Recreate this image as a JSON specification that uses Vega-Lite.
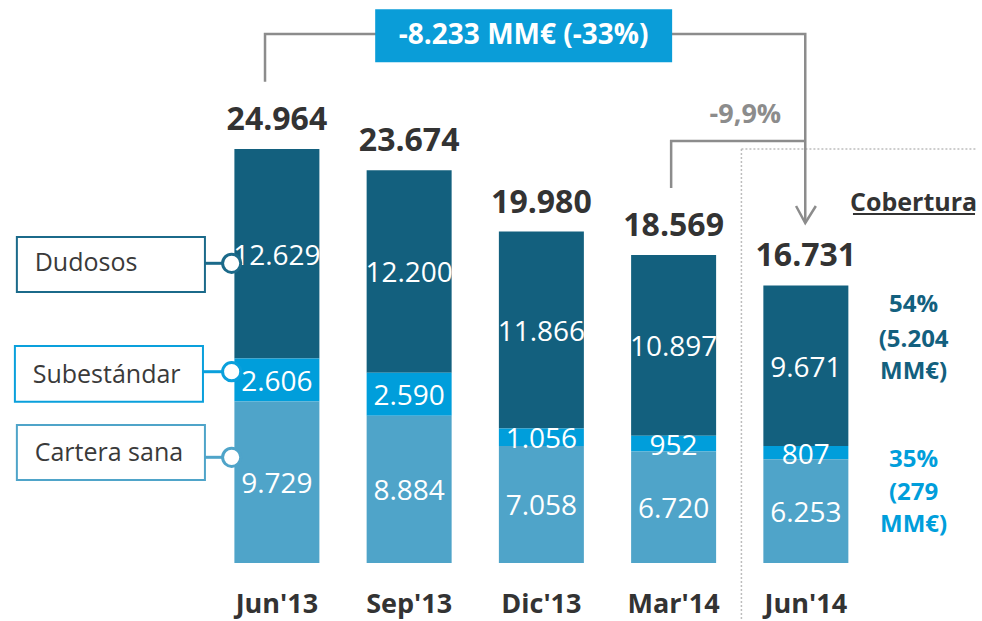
{
  "$schema": "https://vega.github.io/schema/vega-lite/v6.json",
  "width": 982,
  "height": 563,
  "autosize": {"type": "none"},
  "padding": {"left": 0, "top": 0, "right": 0, "bottom": 58},
  "background": "white",
  "config": {
    "view": {"stroke": null},
    "font": "Open Sans",
    "locale": {"number": {"decimal": ",", "thousands": ".", "grouping": [3], "currency": ["", " €"]}}
  },
  "datasets": {
    "stock": [
      {"periodo": "Jun'13", "pos": 1, "tipo": "Dudosos", "orden": 3, "valor": 12629},
      {"periodo": "Jun'13", "pos": 1, "tipo": "Subestándar", "orden": 2, "valor": 2606},
      {"periodo": "Jun'13", "pos": 1, "tipo": "Cartera sana", "orden": 1, "valor": 9729},
      {"periodo": "Sep'13", "pos": 2, "tipo": "Dudosos", "orden": 3, "valor": 12200},
      {"periodo": "Sep'13", "pos": 2, "tipo": "Subestándar", "orden": 2, "valor": 2590},
      {"periodo": "Sep'13", "pos": 2, "tipo": "Cartera sana", "orden": 1, "valor": 8884},
      {"periodo": "Dic'13", "pos": 3, "tipo": "Dudosos", "orden": 3, "valor": 11866},
      {"periodo": "Dic'13", "pos": 3, "tipo": "Subestándar", "orden": 2, "valor": 1056},
      {"periodo": "Dic'13", "pos": 3, "tipo": "Cartera sana", "orden": 1, "valor": 7058},
      {"periodo": "Mar'14", "pos": 4, "tipo": "Dudosos", "orden": 3, "valor": 10897},
      {"periodo": "Mar'14", "pos": 4, "tipo": "Subestándar", "orden": 2, "valor": 952},
      {"periodo": "Mar'14", "pos": 4, "tipo": "Cartera sana", "orden": 1, "valor": 6720},
      {"periodo": "Jun'14", "pos": 5, "tipo": "Dudosos", "orden": 3, "valor": 9671},
      {"periodo": "Jun'14", "pos": 5, "tipo": "Subestándar", "orden": 2, "valor": 807},
      {"periodo": "Jun'14", "pos": 5, "tipo": "Cartera sana", "orden": 1, "valor": 6253}
    ],
    "leyenda": [
      {"tipo": "Dudosos", "x1": -0.9663, "x2": 0.4558, "ysup": 19653, "yinf": 16337, "xt": -0.8316, "yt": 18085, "xc": 0.6579, "yc": 18067},
      {"tipo": "Subestándar", "x1": -0.9813, "x2": 0.4409, "ysup": 13082, "yinf": 9724, "xt": -0.8466, "yt": 11333, "xc": 0.6579, "yc": 11532},
      {"tipo": "Cartera sana", "x1": -0.9663, "x2": 0.4558, "ysup": 8319, "yinf": 5004, "xt": -0.8316, "yt": 6631, "xc": 0.6579, "yc": 6372}
    ],
    "flechas": [
      {"tramo": "total", "o": 1, "xa": 0.9102, "ya": 29015},
      {"tramo": "total", "o": 2, "xa": 0.9102, "ya": 31890},
      {"tramo": "total", "o": 3, "xa": 4.9955, "ya": 31890},
      {"tramo": "total", "o": 4, "xa": 4.9955, "ya": 20497},
      {"tramo": "trimestre", "o": 1, "xa": 3.9813, "ya": 22607},
      {"tramo": "trimestre", "o": 2, "xa": 3.9813, "ya": 25440},
      {"tramo": "trimestre", "o": 3, "xa": 4.9955, "ya": 25440},
      {"tramo": "punta", "o": 1, "xa": 4.9259, "ya": 21521},
      {"tramo": "punta", "o": 2, "xa": 4.9955, "ya": 20497},
      {"tramo": "punta", "o": 3, "xa": 5.0756, "ya": 21521}
    ],
    "punteadas": [
      {"xa": 4.5127, "xb": 4.5127, "ya": 24958, "yb": -3496},
      {"xa": 4.5127, "xb": 6.2942, "ya": 24958, "yb": 24958}
    ],
    "caja": [
      {"texto": "-8.233 MM€ (-33%)", "xa": 1.7433, "xb": 3.9888, "ya": 33379, "yb": 30184, "xt": 2.866, "yt": 31770}
    ],
    "variacion": [
      {"texto": "-9,9%", "xa": 4.5427, "ya": 27007}
    ],
    "titulo": [
      {"texto": "Cobertura", "xa": 5.8151, "ya": 21702, "xs": 5.3563, "xs2": 6.2792, "ys": 21039}
    ],
    "cobertura": [
      {"tipo": "Dudosos", "texto": "54%", "xa": 5.8151, "ya": 15553},
      {"tipo": "Dudosos", "texto": "(5.204", "xa": 5.8151, "ya": 13443},
      {"tipo": "Dudosos", "texto": "MM€)", "xa": 5.8151, "ya": 11514},
      {"tipo": "Subestándar", "texto": "35%", "xa": 5.8151, "ya": 6209},
      {"tipo": "Subestándar", "texto": "(279", "xa": 5.8151, "ya": 4220},
      {"tipo": "Subestándar", "texto": "MM€)", "xa": 5.8151, "ya": 2291}
    ]
  },
  "layer": [
    {
      "data": {"name": "punteadas"},
      "mark": {"type": "rule", "color": "#BDBDBD", "strokeWidth": 1.5, "strokeDash": [2, 2]},
      "encoding": {
        "x": {"field": "xa", "type": "quantitative", "scale": {"domain": [-1.0561, 6.2942], "nice": false, "zero": false}, "axis": null},
        "x2": {"field": "xb"},
        "y": {"field": "ya", "type": "quantitative", "scale": {"domain": [0, 33940], "nice": false, "zero": false}, "axis": null},
        "y2": {"field": "yb"}
      }
    },
    {
      "data": {"name": "flechas"},
      "mark": {"type": "line", "color": "#8C8C8C", "strokeWidth": 2.5, "strokeJoin": "miter"},
      "encoding": {
        "x": {"field": "xa", "type": "quantitative", "scale": {"domain": [-1.0561, 6.2942], "nice": false, "zero": false}, "axis": null},
        "y": {"field": "ya", "type": "quantitative", "scale": {"domain": [0, 33940], "nice": false, "zero": false}, "axis": null},
        "detail": {"field": "tramo", "type": "nominal"},
        "order": {"field": "o", "type": "quantitative"}
      }
    },
    {
      "data": {"name": "caja"},
      "mark": {"type": "rect", "color": "#0A9DD8"},
      "encoding": {
        "x": {"field": "xa", "type": "quantitative", "scale": {"domain": [-1.0561, 6.2942], "nice": false, "zero": false}, "axis": null},
        "x2": {"field": "xb"},
        "y": {"field": "ya", "type": "quantitative", "scale": {"domain": [0, 33940], "nice": false, "zero": false}, "axis": null},
        "y2": {"field": "yb"}
      }
    },
    {
      "data": {"name": "caja"},
      "mark": {"type": "text", "color": "white", "fontSize": 28, "fontWeight": "bold", "baseline": "middle", "align": "center"},
      "encoding": {
        "x": {"field": "xt", "type": "quantitative", "scale": {"domain": [-1.0561, 6.2942], "nice": false, "zero": false}, "axis": null},
        "y": {"field": "yt", "type": "quantitative", "scale": {"domain": [0, 33940], "nice": false, "zero": false}, "axis": null},
        "text": {"field": "texto"}
      }
    },
    {
      "data": {"name": "stock"},
      "transform": [
        {"stack": "valor", "groupby": ["pos"], "sort": [{"field": "orden", "order": "ascending"}], "as": ["y0", "y1"]}
      ],
      "mark": {"type": "bar", "width": 85},
      "encoding": {
        "x": {"field": "pos", "type": "quantitative", "scale": {"domain": [-1.0561, 6.2942], "nice": false, "zero": false}, "axis": null},
        "y": {"field": "y0", "type": "quantitative", "scale": {"domain": [0, 33940], "nice": false, "zero": false}, "axis": null},
        "y2": {"field": "y1"},
        "color": {
          "field": "tipo", "type": "nominal",
          "scale": {"domain": ["Dudosos", "Subestándar", "Cartera sana"], "range": ["#13607E", "#009EDB", "#4FA4C9"]},
          "legend": null
        }
      }
    },
    {
      "data": {"name": "stock"},
      "transform": [
        {"stack": "valor", "groupby": ["pos"], "sort": [{"field": "orden", "order": "ascending"}], "as": ["y0", "y1"]},
        {"calculate": "(datum.y0 + datum.y1) / 2", "as": "ym"}
      ],
      "mark": {"type": "text", "color": "white", "fontSize": 28, "baseline": "middle", "align": "center", "dy": 3},
      "encoding": {
        "x": {"field": "pos", "type": "quantitative", "scale": {"domain": [-1.0561, 6.2942], "nice": false, "zero": false}, "axis": null},
        "y": {"field": "ym", "type": "quantitative", "scale": {"domain": [0, 33940], "nice": false, "zero": false}, "axis": null},
        "text": {"field": "valor", "type": "quantitative", "format": ",d"}
      }
    },
    {
      "data": {"name": "stock"},
      "transform": [
        {"aggregate": [{"op": "sum", "field": "valor", "as": "total"}], "groupby": ["pos"]}
      ],
      "mark": {"type": "text", "color": "#333333", "fontSize": 32, "fontWeight": "bold", "baseline": "middle", "align": "center", "dy": -29},
      "encoding": {
        "x": {"field": "pos", "type": "quantitative", "scale": {"domain": [-1.0561, 6.2942], "nice": false, "zero": false}, "axis": null},
        "y": {"field": "total", "type": "quantitative", "scale": {"domain": [0, 33940], "nice": false, "zero": false}, "axis": null},
        "text": {"field": "total", "type": "quantitative", "format": ",d"}
      }
    },
    {
      "data": {"name": "stock"},
      "transform": [{"filter": "datum.orden == 1"}],
      "mark": {"type": "text", "color": "#333333", "fontSize": 27, "fontWeight": "bold", "baseline": "middle", "align": "center", "dy": 42},
      "encoding": {
        "x": {"field": "pos", "type": "quantitative", "scale": {"domain": [-1.0561, 6.2942], "nice": false, "zero": false}, "axis": null},
        "y": {"datum": 0, "type": "quantitative", "scale": {"domain": [0, 33940], "nice": false, "zero": false}, "axis": null},
        "text": {"field": "periodo"}
      }
    },
    {
      "data": {"name": "leyenda"},
      "mark": {"type": "rect", "fill": "white", "strokeWidth": 2},
      "encoding": {
        "x": {"field": "x1", "type": "quantitative", "scale": {"domain": [-1.0561, 6.2942], "nice": false, "zero": false}, "axis": null},
        "x2": {"field": "x2"},
        "y": {"field": "ysup", "type": "quantitative", "scale": {"domain": [0, 33940], "nice": false, "zero": false}, "axis": null},
        "y2": {"field": "yinf"},
        "stroke": {
          "field": "tipo", "type": "nominal",
          "scale": {"domain": ["Dudosos", "Subestándar", "Cartera sana"], "range": ["#1B6A8A", "#0AA0DC", "#4FA4C9"]},
          "legend": null
        }
      }
    },
    {
      "data": {"name": "leyenda"},
      "mark": {"type": "text", "color": "#3A3A3A", "fontSize": 25, "baseline": "middle", "align": "left"},
      "encoding": {
        "x": {"field": "xt", "type": "quantitative", "scale": {"domain": [-1.0561, 6.2942], "nice": false, "zero": false}, "axis": null},
        "y": {"field": "yt", "type": "quantitative", "scale": {"domain": [0, 33940], "nice": false, "zero": false}, "axis": null},
        "text": {"field": "tipo"}
      }
    },
    {
      "data": {"name": "leyenda"},
      "mark": {"type": "rule", "strokeWidth": 3},
      "encoding": {
        "x": {"field": "x2", "type": "quantitative", "scale": {"domain": [-1.0561, 6.2942], "nice": false, "zero": false}, "axis": null},
        "x2": {"field": "xc"},
        "y": {"field": "yc", "type": "quantitative", "scale": {"domain": [0, 33940], "nice": false, "zero": false}, "axis": null},
        "stroke": {
          "field": "tipo", "type": "nominal",
          "scale": {"domain": ["Dudosos", "Subestándar", "Cartera sana"], "range": ["#1B6A8A", "#0AA0DC", "#4FA4C9"]},
          "legend": null
        }
      }
    },
    {
      "data": {"name": "leyenda"},
      "mark": {"type": "point", "shape": "circle", "filled": false, "fill": "white", "fillOpacity": 1, "strokeWidth": 3, "size": 330, "opacity": 1},
      "encoding": {
        "x": {"field": "xc", "type": "quantitative", "scale": {"domain": [-1.0561, 6.2942], "nice": false, "zero": false}, "axis": null},
        "y": {"field": "yc", "type": "quantitative", "scale": {"domain": [0, 33940], "nice": false, "zero": false}, "axis": null},
        "stroke": {
          "field": "tipo", "type": "nominal",
          "scale": {"domain": ["Dudosos", "Subestándar", "Cartera sana"], "range": ["#1B6A8A", "#0AA0DC", "#4FA4C9"]},
          "legend": null
        }
      }
    },
    {
      "data": {"name": "variacion"},
      "mark": {"type": "text", "color": "#8C8C8C", "fontSize": 27, "fontWeight": "bold", "baseline": "middle", "align": "center"},
      "encoding": {
        "x": {"field": "xa", "type": "quantitative", "scale": {"domain": [-1.0561, 6.2942], "nice": false, "zero": false}, "axis": null},
        "y": {"field": "ya", "type": "quantitative", "scale": {"domain": [0, 33940], "nice": false, "zero": false}, "axis": null},
        "text": {"field": "texto"}
      }
    },
    {
      "data": {"name": "titulo"},
      "mark": {"type": "text", "color": "#333333", "fontSize": 25, "fontWeight": "bold", "baseline": "middle", "align": "center"},
      "encoding": {
        "x": {"field": "xa", "type": "quantitative", "scale": {"domain": [-1.0561, 6.2942], "nice": false, "zero": false}, "axis": null},
        "y": {"field": "ya", "type": "quantitative", "scale": {"domain": [0, 33940], "nice": false, "zero": false}, "axis": null},
        "text": {"field": "texto"}
      }
    },
    {
      "data": {"name": "titulo"},
      "mark": {"type": "rule", "color": "#333333", "strokeWidth": 2},
      "encoding": {
        "x": {"field": "xs", "type": "quantitative", "scale": {"domain": [-1.0561, 6.2942], "nice": false, "zero": false}, "axis": null},
        "x2": {"field": "xs2"},
        "y": {"field": "ys", "type": "quantitative", "scale": {"domain": [0, 33940], "nice": false, "zero": false}, "axis": null}
      }
    },
    {
      "data": {"name": "cobertura"},
      "mark": {"type": "text", "fontSize": 24, "fontWeight": "bold", "baseline": "middle", "align": "center"},
      "encoding": {
        "x": {"field": "xa", "type": "quantitative", "scale": {"domain": [-1.0561, 6.2942], "nice": false, "zero": false}, "axis": null},
        "y": {"field": "ya", "type": "quantitative", "scale": {"domain": [0, 33940], "nice": false, "zero": false}, "axis": null},
        "text": {"field": "texto"},
        "color": {
          "field": "tipo", "type": "nominal",
          "scale": {"domain": ["Dudosos", "Subestándar", "Cartera sana"], "range": ["#13607E", "#009EDB", "#4FA4C9"]},
          "legend": null
        }
      }
    }
  ]
}
